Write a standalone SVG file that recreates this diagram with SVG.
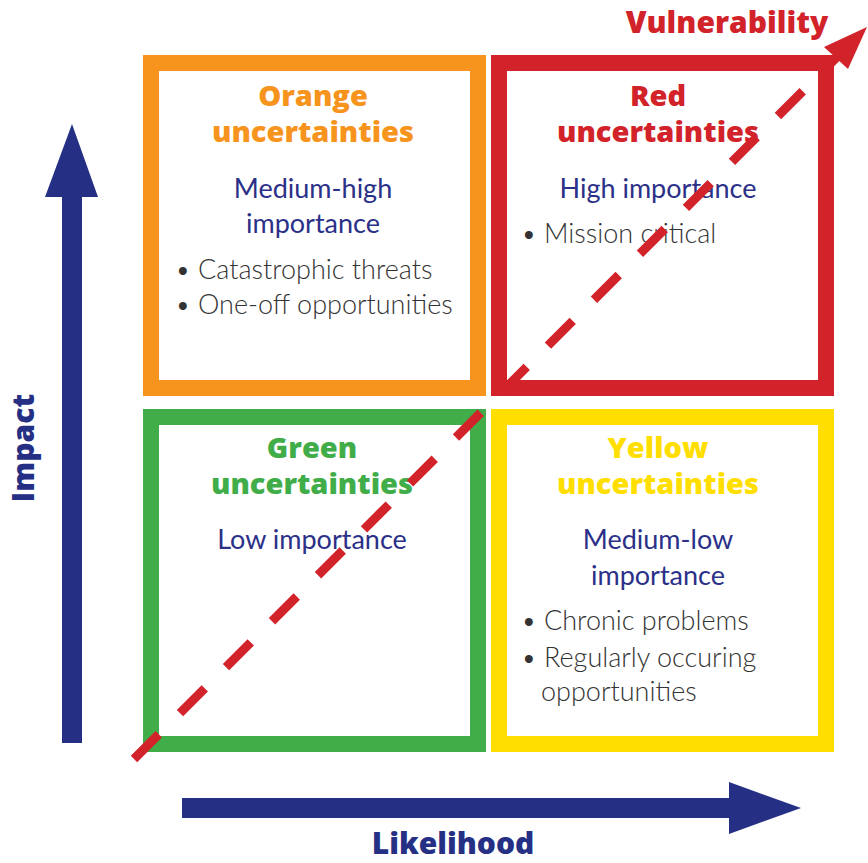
<svg xmlns="http://www.w3.org/2000/svg" width="868" height="863" viewBox="0 0 868 863">
<style>
.box{fill:#fff;stroke-width:16}
.title{font-family:"Open Sans","Liberation Sans",sans-serif;font-weight:800;font-size:29px;text-anchor:middle}
.imp{font-family:Lato,"Liberation Sans",sans-serif;font-weight:400;font-size:27px;fill:#2B3088;text-anchor:middle}
.bul{font-family:Lato,"Liberation Sans",sans-serif;font-weight:300;font-size:27px;fill:#333333}
.axis{font-family:"Open Sans","Liberation Sans",sans-serif;font-weight:800;font-size:30px;fill:#253085;text-anchor:middle}
</style>
<rect width="868" height="863" fill="#fff"/>
<g id="orange">
<rect class="box" x="151" y="63" width="327" height="325" stroke="#F7941D"/>
<text class="title" fill="#F7941D" x="313" y="106">Orange</text>
<text class="title" fill="#F7941D" x="313" y="142">uncertainties</text>
<text class="imp" x="313" y="198">Medium-high</text>
<text class="imp" x="313" y="233">importance</text>
<text class="bul" x="175" y="279">• Catastrophic threats</text>
<text class="bul" x="175" y="314">• One-off opportunities</text>
</g>
<g id="red">
<rect class="box" x="499" y="63" width="327" height="325" stroke="#D2232A"/>
<text class="title" fill="#D2232A" x="658" y="106">Red</text>
<text class="title" fill="#D2232A" x="658" y="142">uncertainties</text>
<text class="imp" x="658" y="198">High importance</text>
<text class="bul" x="521" y="243">• Mission critical</text>
</g>
<g id="green">
<rect class="box" x="151" y="417" width="327" height="327" stroke="#41AD49"/>
<text class="title" fill="#41AD49" x="312" y="458">Green</text>
<text class="title" fill="#41AD49" x="312" y="494">uncertainties</text>
<text class="imp" x="312" y="549">Low importance</text>
</g>
<g id="yellow">
<rect class="box" x="499" y="417" width="327" height="327" stroke="#FFDE00"/>
<text class="title" fill="#FFDE00" x="658" y="458">Yellow</text>
<text class="title" fill="#FFDE00" x="658" y="494">uncertainties</text>
<text class="imp" x="658" y="549">Medium-low</text>
<text class="imp" x="658" y="585">importance</text>
<text class="bul" x="521" y="630">• Chronic problems</text>
<text class="bul" x="521" y="667">• Regularly occuring</text>
<text class="bul" x="541" y="701">opportunities</text>
</g>
<g id="connectors">
<g id="impact-axis">
<polygon fill="#253085" points="62,743 82,743 82,197 98,197 72,124 45,197 62,197"/>
<text class="axis" font-size="29" transform="translate(34,448) rotate(-90)">Impact</text>
</g>
<g id="likelihood-axis">
<polygon fill="#253085" points="182,798 729,798 729,782 801,808 729,834 729,818 182,818"/>
<text class="axis" x="453" y="854">Likelihood</text>
</g>
<g id="vulnerability-axis">
<line x1="134" y1="759" x2="838" y2="56" stroke="#D2232A" stroke-width="9" stroke-dasharray="35 30"/>
<polygon fill="#D2232A" points="867,27 848,69 836,58 824,47"/>
<text x="727" y="33" font-family="'Open Sans','Liberation Sans',sans-serif" font-weight="800" font-size="30" fill="#D2232A" text-anchor="middle">Vulnerability</text>
</g>
</g>
</svg>
